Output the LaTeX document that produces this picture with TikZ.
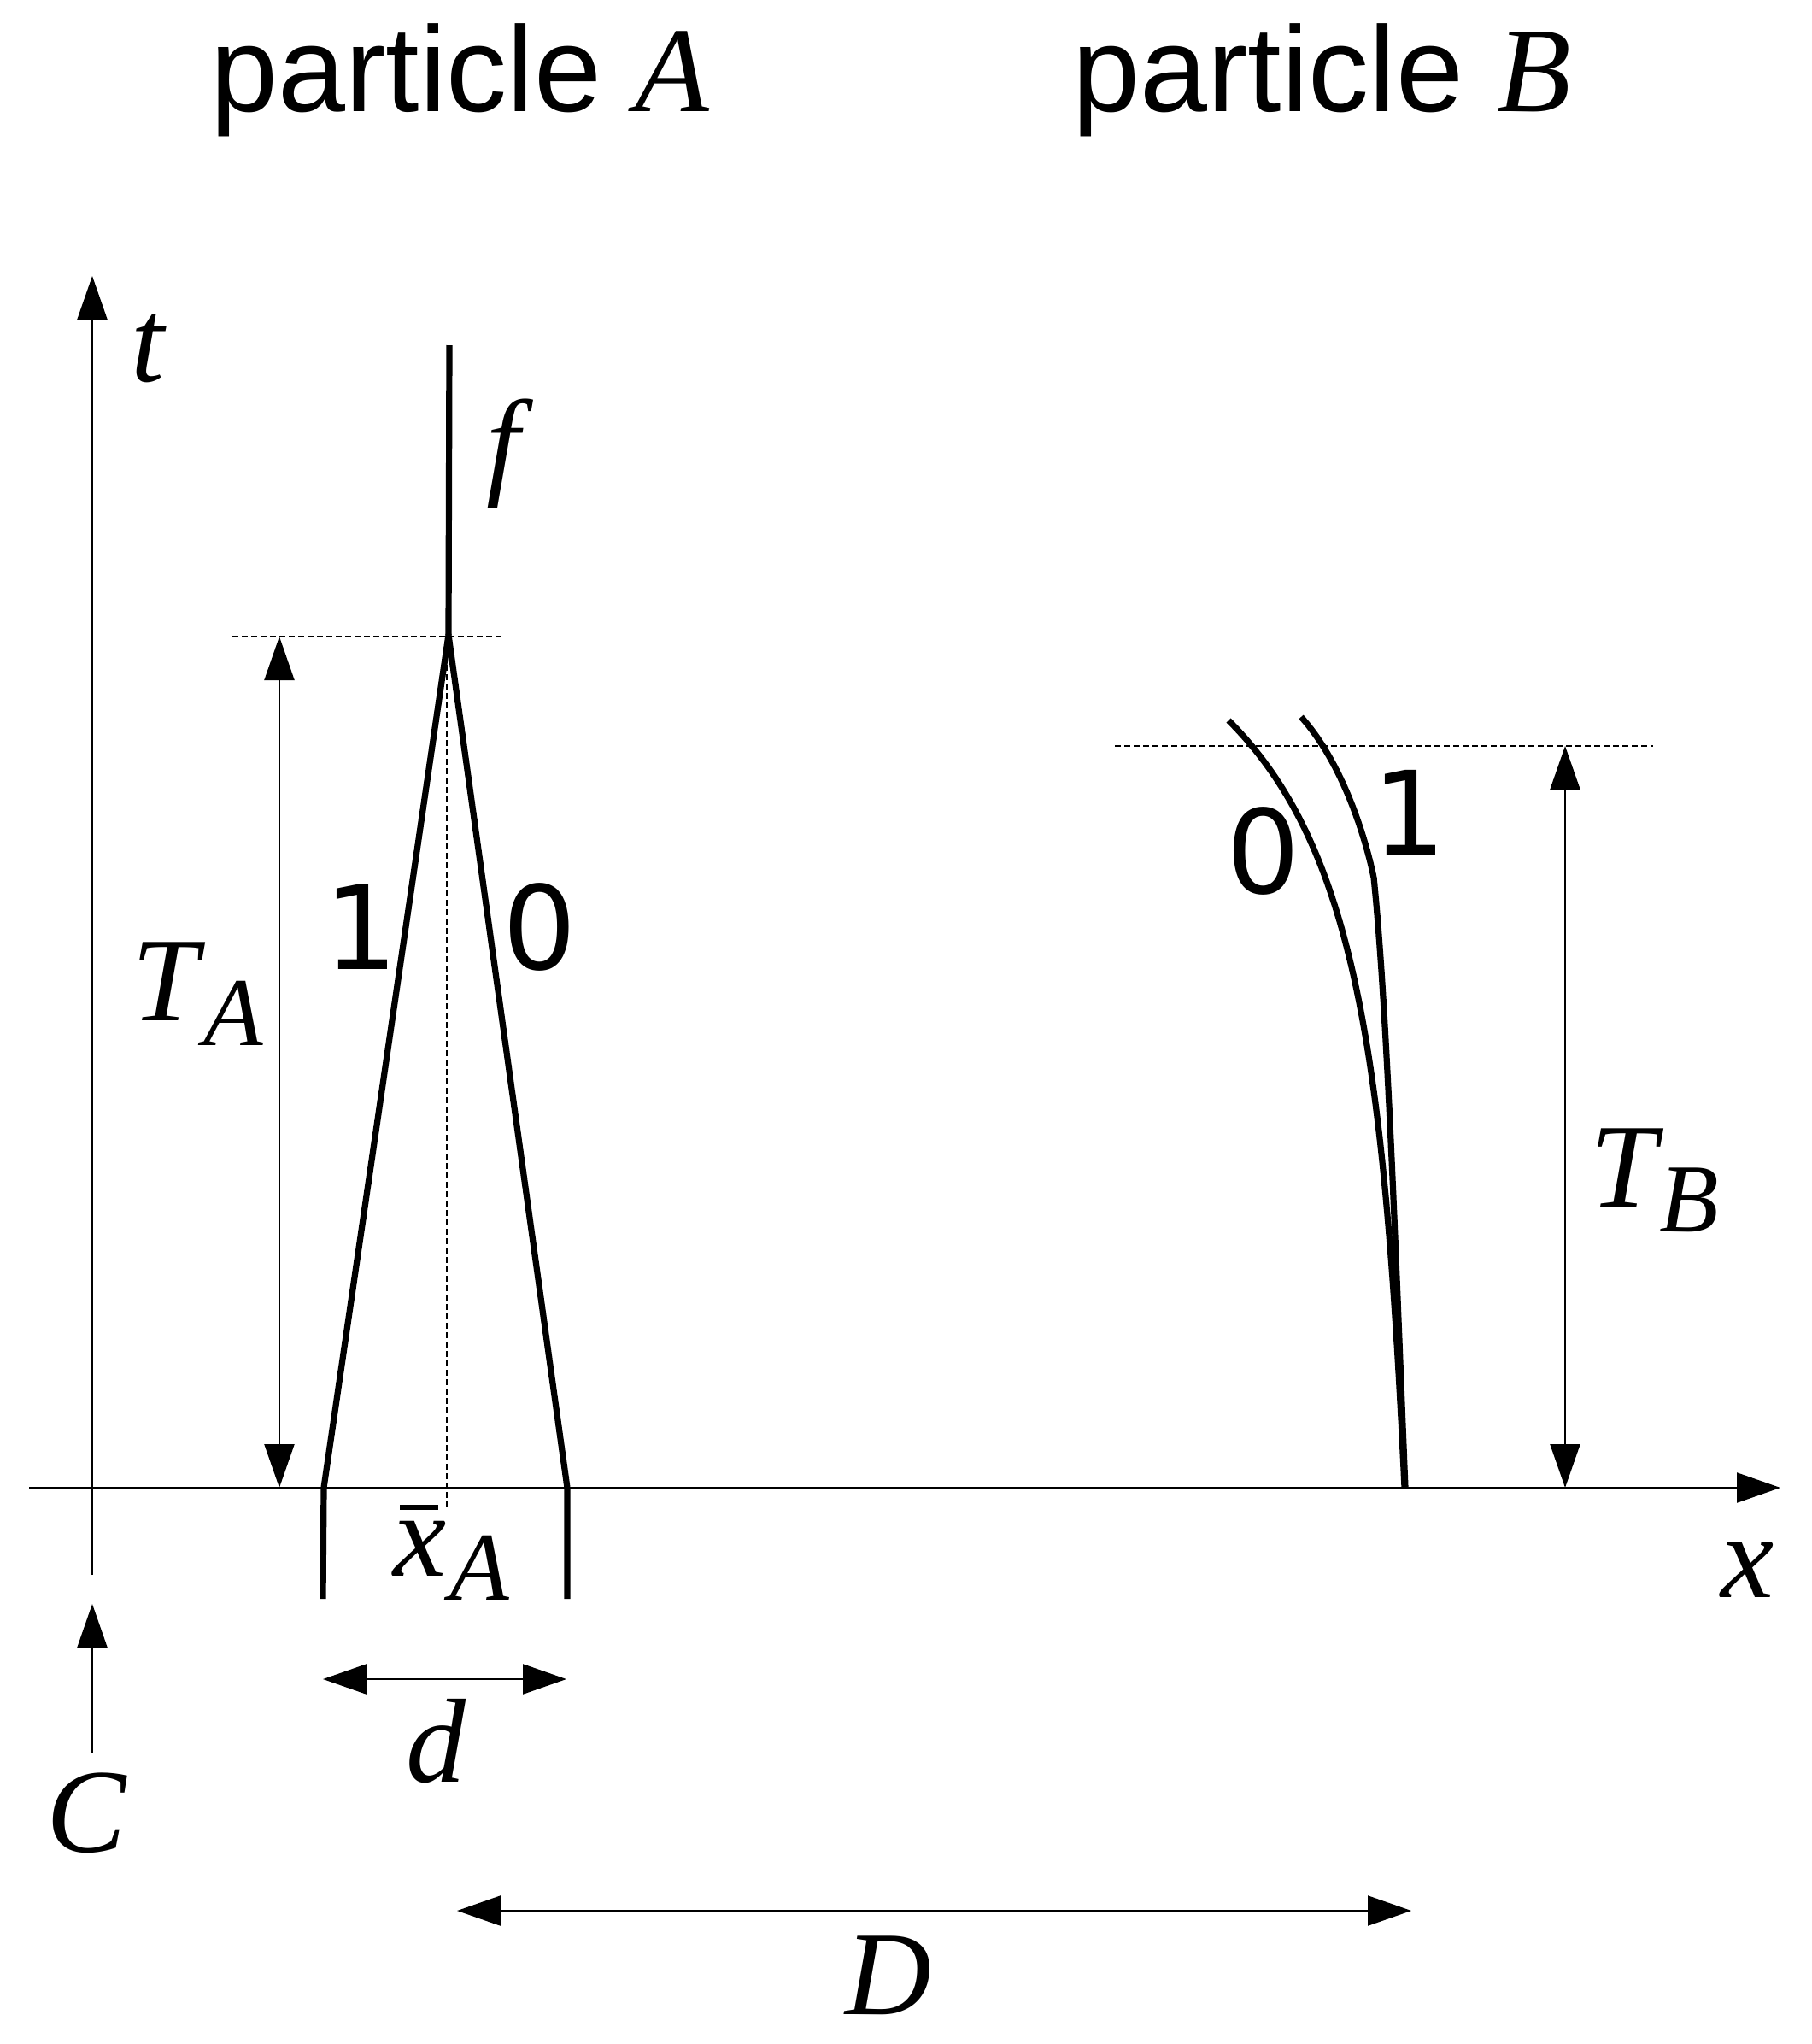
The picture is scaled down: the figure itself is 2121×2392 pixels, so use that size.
\documentclass[tikz,border=0pt]{standalone}
\usepackage{fontspec}
\usetikzlibrary{arrows.meta}
\newfontfamily\lsans{Liberation Sans}
\newfontfamily\lserif{Liberation Serif}
\newfontfamily\dsans{DejaVu Sans}
\newcommand\lowsub[3]{\kern#1\raisebox{-#2}{\fontsize{57bp}{60bp}\selectfont #3}}
\tikzset{
  thinln/.style={line width=1.1bp},
  thickln/.style={line width=3.6bp, line join=round},
  dashln/.style={line width=0.6bp, dash pattern=on 3.5bp off 2bp},
  arr/.style={-{Triangle[length=25.5bp,width=17.5bp]}},
  darr/.style={{Triangle[length=25.5bp,width=17.5bp]}-{Triangle[length=25.5bp,width=17.5bp]}},
  mathlbl/.style={inner sep=0, anchor=base west, font=\lserif\itshape\fontsize{70bp}{84bp}\selectfont},
  titlelbl/.style={inner sep=0, anchor=base west, font=\lsans\fontsize{71bp}{85bp}\selectfont},
  digitlbl/.style={inner sep=0, anchor=base, font=\dsans\fontsize{68bp}{82bp}\selectfont},
}
\begin{document}
\begin{tikzpicture}[x=0.5bp,y=-0.5bp]
\useasboundingbox (0,0) rectangle (2121,2392);
% coordinates
\coordinate (tbot) at (108,1843); \coordinate (ttop) at (108,323);
\coordinate (xl) at (34,1741); \coordinate (xr) at (2084,1741);
\coordinate (cb) at (108,2051); \coordinate (ct) at (108,1877);
\coordinate (ftop) at (526,404); \coordinate (apex) at (525,743);
\coordinate (la) at (379,1741); \coordinate (lb) at (378,1871);
\coordinate (ra) at (664,1741); \coordinate (rb) at (664,1871);
\coordinate (tat) at (327,745); \coordinate (tab) at (327,1741);
\coordinate (dl) at (378,1965); \coordinate (dr) at (663,1965);
\coordinate (Dl) at (535,2236); \coordinate (Dr) at (1652,2236);
\coordinate (tbt) at (1832,873); \coordinate (tbb) at (1832,1741);
\coordinate (hAl) at (272,745); \coordinate (hAr) at (589,745);
\coordinate (hBl) at (1305,873); \coordinate (hBr) at (1935,873);
\coordinate (vAt) at (523,745); \coordinate (vAb) at (523,1765);
\coordinate (b0s) at (1438,843); \coordinate (b0e) at (1644,1741);
\coordinate (b1s) at (1523,839); \coordinate (b1k) at (1608,1027); \coordinate (b1e) at (1645,1741);
% dashed guides
\draw[dashln] (hAl) -- (hAr);
\draw[dashln] (hBl) -- (hBr);
\draw[dashln] (vAt) -- (vAb);
% axes
\draw[thinln,arr] (tbot) -- (ttop);
\draw[thinln,arr] (xl) -- (xr);
\draw[thinln,arr] (cb) -- (ct);
% dimension arrows
\draw[thinln,darr] (tat) -- (tab);
\draw[thinln,darr] (tbt) -- (tbb);
\draw[thinln,darr] (dl) -- (dr);
\draw[thinln,darr] (Dl) -- (Dr);
% particle A world lines
\draw[thickln] (ftop) -- (apex);
\draw[thickln] (lb) -- (la) -- (apex) -- (ra) -- (rb);
% particle B world lines
\draw[thickln] (b0s) .. controls (1588,993) and (1620.5,1241) .. (b0e);
\draw[thickln] (b1s) .. controls (1577,899) and (1602,997) .. (b1k)
   .. controls (1624,1180) and (1634.5,1491) .. (b1e);
% labels
\node[titlelbl] (titA) at (246,130) {particle {\lserif\itshape A}};
\node[titlelbl] (titB) at (1255,130) {particle {\lserif\itshape B}};
\node[mathlbl] (tlab) at (153,446) {t};
\node[mathlbl] (flab) at (569,565) {f};
\node[mathlbl] (TAlab) at (154,1194) {T\lowsub{3bp}{14.5bp}{A}};
\node[mathlbl] (TBlab) at (1861,1412) {T\lowsub{1.5bp}{14.5bp}{B}};
\node[mathlbl] (xAlab) at (460,1844) {\rlap{\kern4bp\raisebox{38.5bp}{\rule{22.5bp}{3bp}}}x\lowsub{2bp}{14bp}{A}};
\node[mathlbl] (xlab) at (2014,1869) {x};
\node[mathlbl] (Clab) at (54,2167) {C};
\node[mathlbl] (dlab) at (475,2085) {d};
\node[mathlbl] (Dlab) at (989,2357) {D};
\node[digitlbl] (oneA) at (423,1134) {1};
\node[digitlbl] (zeroA) at (632,1134) {0};
\node[digitlbl] (zeroB) at (1479,1045) {0};
\node[digitlbl] (oneB) at (1650,1000) {1};
\end{tikzpicture}
\end{document}
